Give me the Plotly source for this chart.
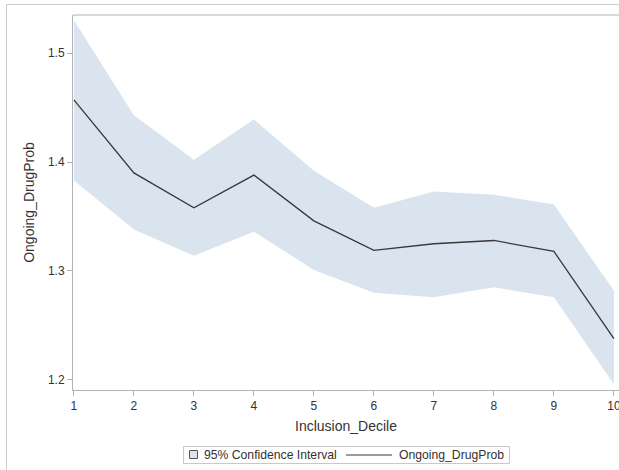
import plotly.graph_objects as go

decile = [1, 2, 3, 4, 5, 6, 7, 8, 9, 10]
prob = [1.457, 1.390, 1.358, 1.388, 1.346, 1.319, 1.325, 1.328, 1.318, 1.238]
upper = [1.530, 1.443, 1.402, 1.439, 1.392, 1.358, 1.373, 1.370, 1.361, 1.282]
lower = [1.383, 1.338, 1.314, 1.336, 1.301, 1.280, 1.276, 1.285, 1.276, 1.196]

x_ticks = [1, 2, 3, 4, 5, 6, 7, 8, 9, 10]
y_ticks = [1.2, 1.3, 1.4, 1.5]

band_name = "95% Confidence Interval"
line_name = "Ongoing_DrugProb"

band_color = "#dae4ef"
line_color = "#383838"
axis_color = "#b4b4b4"
font_family = "Liberation Sans, Arial, sans-serif"

PL, PT, PW, PH = 73.0, 15.0, 546.0, 375.0  # plot box in px


def px(xp):
    return (xp - PL) / PW


def py(yp):
    return (PT + PH - yp) / PH


fig = go.Figure()
fig.add_trace(go.Scatter(
    x=decile + decile[::-1], y=upper + lower[::-1],
    fill="toself", fillcolor=band_color, line=dict(width=0),
    mode="lines", name=band_name, showlegend=False, hoverinfo="skip"))
fig.add_trace(go.Scatter(
    x=decile, y=prob, mode="lines", name=line_name, showlegend=False,
    line=dict(color=line_color, width=1.3)))

border = "#cccccc"
shapes = [
    # top frame line of plot area
    dict(type="line", xref="paper", yref="paper", x0=0, x1=1.0, y0=1, y1=1,
         line=dict(color=axis_color, width=1)),
    # outer graph border (top and left)
    dict(type="line", xref="paper", yref="paper", x0=px(6.5), x1=1.0,
         y0=py(4.5), y1=py(4.5), line=dict(color=border, width=1)),
    dict(type="line", xref="paper", yref="paper", x0=px(6.5), x1=px(6.5),
         y0=py(4.5), y1=py(470), line=dict(color=border, width=1)),
    # legend frame
    dict(type="rect", xref="paper", yref="paper", x0=px(183.5), x1=px(509.5),
         y0=py(446.5), y1=py(463.5), line=dict(color="#c8c8c8", width=1),
         fillcolor="white"),
    # legend patch
    dict(type="rect", xref="paper", yref="paper", x0=px(189.5), x1=px(197.5),
         y0=py(450.5), y1=py(458.5), line=dict(color="#555555", width=1),
         fillcolor=band_color),
    # legend line
    dict(type="line", xref="paper", yref="paper", x0=px(346), x1=px(392),
         y0=py(455), y1=py(455), line=dict(color=line_color, width=1)),
]

annotations = [
    dict(text=band_name, xref="paper", yref="paper", x=px(202), y=py(455),
         xanchor="left", yanchor="middle", showarrow=False,
         font=dict(size=12.2, color="#333333")),
    dict(text=line_name, xref="paper", yref="paper", x=px(397), y=py(455),
         xanchor="left", yanchor="middle", showarrow=False,
         font=dict(size=12.2, color="#333333")),
]

fig.update_layout(
    width=619, height=470,
    margin=dict(l=PL, r=0, t=PT, b=470 - PT - PH, autoexpand=False),
    paper_bgcolor="white", plot_bgcolor="white",
    font=dict(family=font_family, size=12, color="#333333"),
    showlegend=False,
    xaxis=dict(range=[0.985, 10.085], tickvals=x_ticks, ticks="outside",
               ticklen=5, tickcolor=axis_color, showline=True, linecolor=axis_color,
               linewidth=1, mirror=False, showgrid=False, zeroline=False,
               automargin=False, ticklabeloverflow="allow",
               title=dict(text="Inclusion_Decile", standoff=8),
               tickfont=dict(size=12)),
    yaxis=dict(range=[1.1908, 1.5349], tickvals=y_ticks, tickformat=".1f",
               ticks="outside", ticklen=5, tickcolor=axis_color, showline=True,
               linecolor=axis_color, linewidth=1, showgrid=False, zeroline=False,
               automargin=False,
               title=dict(text="Ongoing_DrugProb", standoff=10),
               tickfont=dict(size=12)),
    shapes=shapes,
    annotations=annotations,
)

fig.write_html("out.html", config={"displayModeBar": False},
               post_script="document.body.style.margin='0';document.body.style.overflow='hidden';")
